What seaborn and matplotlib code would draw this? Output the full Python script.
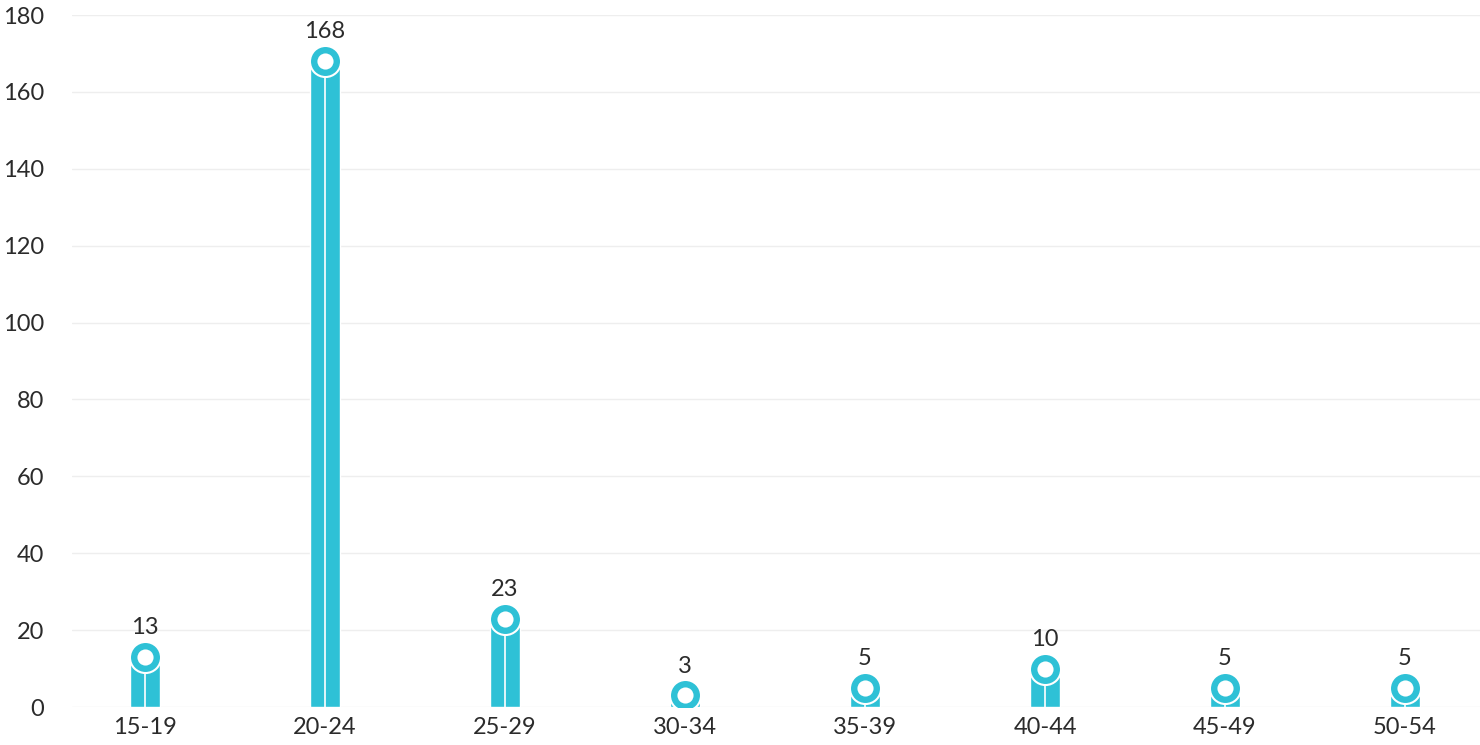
import matplotlib
matplotlib.use("Agg")
import matplotlib.pyplot as plt
import seaborn as sns
import pandas as pd

# Data
age_groups = ["15-19", "20-24", "25-29", "30-34", "35-39", "40-44", "45-49", "50-54"]
counts = [13, 168, 23, 3, 5, 10, 5, 5]

df = pd.DataFrame({"age": age_groups, "count": counts})

teal = "#2EC1D6"
text_col = "#2b2b2b"

sns.set_theme(style="white")
plt.rcParams["font.family"] = ["Lato", "DejaVu Sans"]

fig = plt.figure(figsize=(14.8, 7.45), dpi=100)
ax = fig.add_axes([72 / 1480, 38 / 745, 1408 / 1480, 692 / 745])

sns.barplot(data=df, x="age", y="count", color=teal, width=0.167,
            saturation=1, ax=ax, zorder=2)

# white line down the middle of each bar
xs = range(len(age_groups))
ax.vlines(xs, 0, counts, color="white", linewidth=1.2, zorder=3)

# round cap with white dot at the value
ax.scatter(xs, counts, s=500, color=teal, edgecolor="white", linewidth=1.5, zorder=4)
ax.scatter(xs, counts, s=135, color="white", linewidth=0, zorder=5)

for x, v in zip(xs, counts):
    ax.annotate(str(v), (x, v), xytext=(0, 21), textcoords="offset points",
                ha="center", va="center", fontsize=17, color=text_col)

ax.set_ylim(0, 180)
ax.set_yticks(range(0, 181, 20))
ax.set_xlim(-0.5 + 17 / 180, 7.5 - 15 / 180)
ax.grid(axis="y", color="#eeeeee", linewidth=1, zorder=0)
ax.set_axisbelow(True)
sns.despine(ax=ax, left=True, bottom=True)
ax.tick_params(axis="both", length=0, labelsize=17, labelcolor=text_col)
ax.tick_params(axis="y", pad=20)
ax.tick_params(axis="x", pad=7)
ax.set_xlabel("")
ax.set_ylabel("")

fig.savefig("out.png", dpi=100)
